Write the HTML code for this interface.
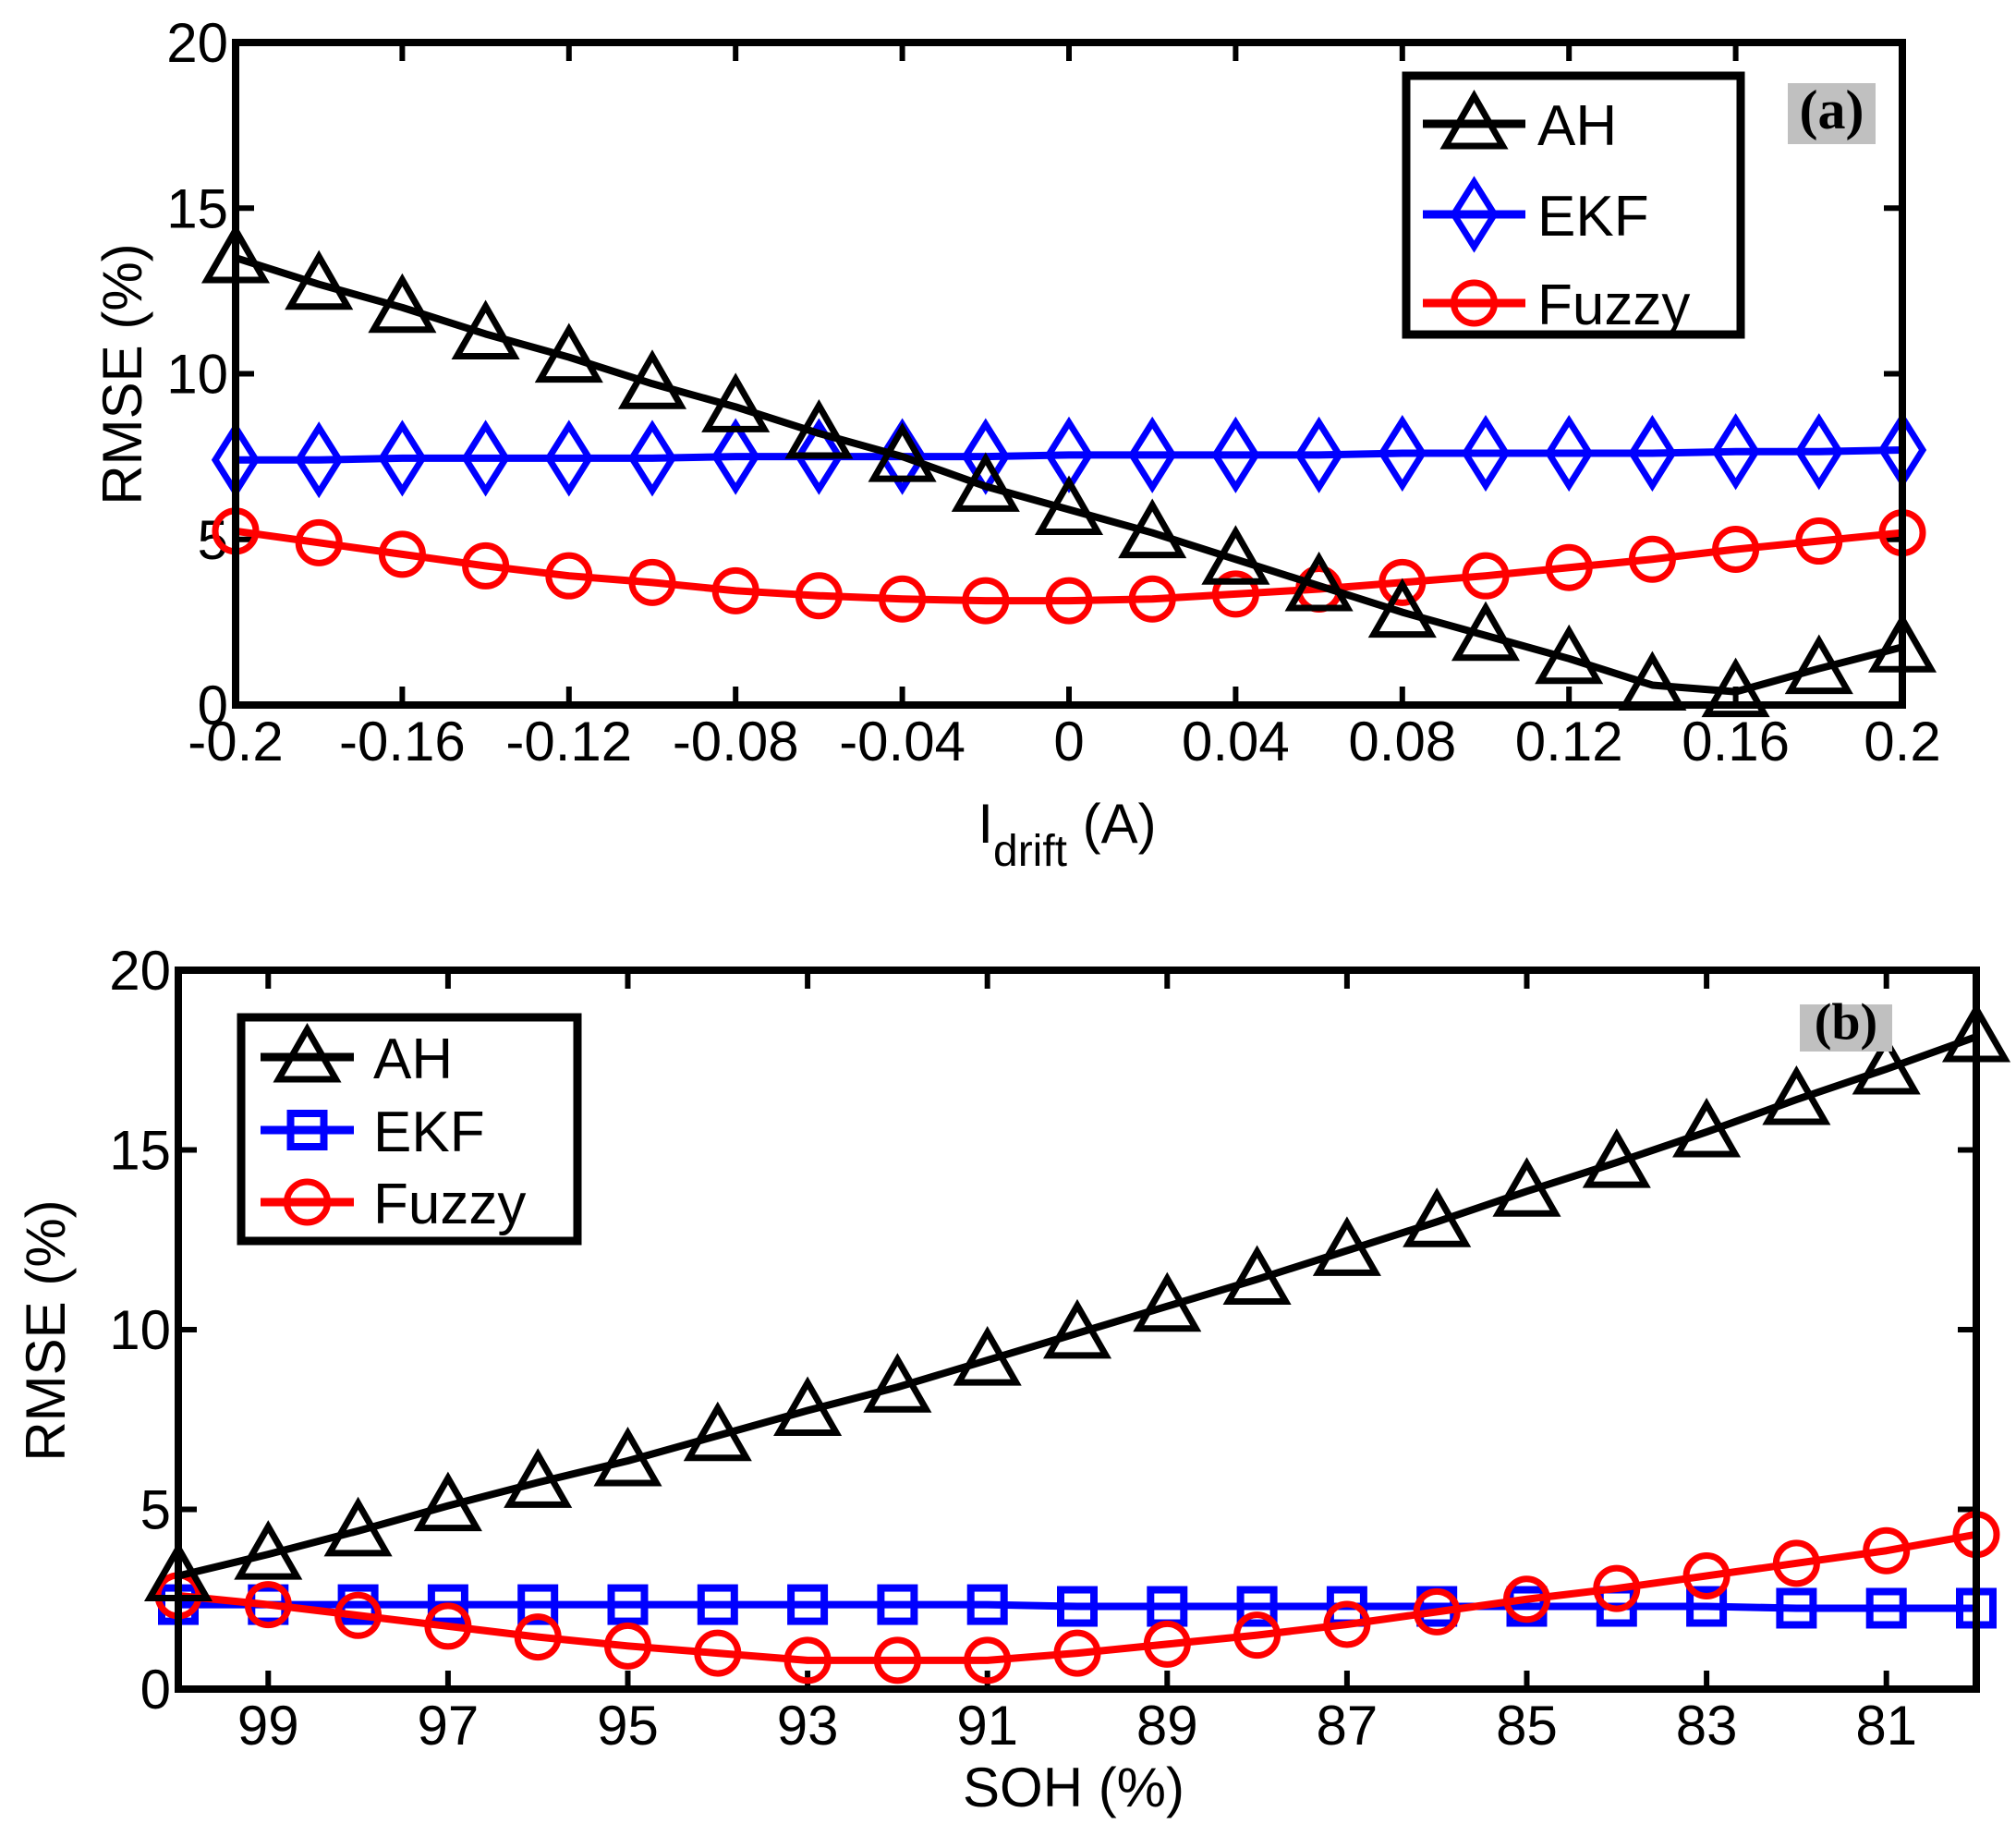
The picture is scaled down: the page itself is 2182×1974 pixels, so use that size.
<!DOCTYPE html>
<html><head><meta charset="utf-8"><style>
html,body{margin:0;padding:0;background:#fff;}
svg{display:block;font-family:"Liberation Sans",Arial,sans-serif;}
</style></head><body>
<svg id="chart" width="2182" height="1974" viewBox="0 0 2182 1974" xmlns="http://www.w3.org/2000/svg"></svg>
<script>
// Panel (a) data
const xA = [-0.2,-0.18,-0.16,-0.14,-0.12,-0.1,-0.08,-0.06,-0.04,-0.02,0,0.02,0.04,0.06,0.08,0.1,0.12,0.14,0.16,0.18,0.2];
const ahA = [13.5,12.7,12.0,11.2,10.5,9.7,9.0,8.2,7.5,6.6,5.9,5.2,4.4,3.6,2.8,2.1,1.4,0.6,0.4,1.1,1.75];
const ekfA = [7.4,7.4,7.45,7.45,7.45,7.45,7.5,7.5,7.5,7.5,7.55,7.55,7.55,7.55,7.6,7.6,7.6,7.6,7.65,7.65,7.7];
const fuzA = [5.25,4.9,4.55,4.2,3.9,3.7,3.45,3.3,3.2,3.15,3.15,3.2,3.35,3.5,3.7,3.9,4.15,4.4,4.7,4.95,5.2];
const xTicksA = [-0.2,-0.16,-0.12,-0.08,-0.04,0,0.04,0.08,0.12,0.16,0.2];
const xTickLabelsA = ["-0.2","-0.16","-0.12","-0.08","-0.04","0","0.04","0.08","0.12","0.16","0.2"];
// Panel (b) data
const xB = [100,99,98,97,96,95,94,93,92,91,90,89,88,87,86,85,84,83,82,81,80];
const ahB = [3.15,3.75,4.4,5.1,5.75,6.35,7.05,7.75,8.4,9.15,9.9,10.65,11.4,12.2,13.0,13.85,14.65,15.5,16.4,17.25,18.15];
const ekfB = [2.35,2.35,2.35,2.35,2.35,2.35,2.35,2.35,2.35,2.35,2.3,2.3,2.3,2.3,2.3,2.3,2.3,2.3,2.25,2.25,2.25];
const fuzB = [2.6,2.35,2.05,1.75,1.45,1.2,1.0,0.8,0.8,0.8,1.0,1.25,1.5,1.8,2.15,2.5,2.8,3.15,3.5,3.85,4.3];
const xTicksB = [99,97,95,93,91,89,87,85,83,81];
const xTickLabelsB = ["99","97","95","93","91","89","87","85","83","81"];
const yTicks = [0,5,10,15,20];
const yTickLabels = ["0","5","10","15","20"];

const NS="http://www.w3.org/2000/svg";
const svg=document.getElementById('chart');
function mk(tag,attrs,parent){const e=document.createElementNS(NS,tag);for(const k in attrs)e.setAttribute(k,attrs[k]);(parent||svg).appendChild(e);return e;}

function marker(g,type,x,y,color){
  let e;
  if(type==='tri'){e=mk('polygon',{points:`${x},${y-30} ${x-31},${y+24} ${x+31},${y+24}`,fill:'none',stroke:color,'stroke-width':7,'stroke-linejoin':'miter'},g);}
  else if(type==='dia'){e=mk('polygon',{points:`${x},${y-35} ${x+22},${y} ${x},${y+35} ${x-22},${y}`,fill:'none',stroke:color,'stroke-width':7},g);}
  else if(type==='sq'){e=mk('rect',{x:x-18,y:y-18,width:36,height:36,fill:'none',stroke:color,'stroke-width':8},g);}
  else {e=mk('circle',{cx:x,cy:y,r:22,fill:'none',stroke:color,'stroke-width':7},g);}
  return e;
}

function panel(o){
  const g=mk('g',{});
  
  
  const sx=v=>o.L+(v-o.x0)/(o.x1-o.x0)*(o.R-o.L);
  const sy=v=>o.B-(v/20)*(o.B-o.T);
  const tk=mk('g',{stroke:'#000','stroke-width':6},g);
  
  
  o.xt.forEach((v,i)=>{
    const x=sx(v);
    mk('line',{x1:x,y1:o.B,x2:x,y2:o.B-20},tk);
    mk('line',{x1:x,y1:o.T,x2:x,y2:o.T+20},tk);
    const t=mk('text',{x:x,y:o.B+60,'font-size':60,'text-anchor':'middle',fill:'#000'},g);
    t.textContent=o.xl[i];
    
    
  });
  yTicks.forEach((v,i)=>{
    const y=sy(v);
    mk('line',{x1:o.L,y1:y,x2:o.L+20,y2:y},tk);
    mk('line',{x1:o.R,y1:y,x2:o.R-20,y2:y},tk);
    const t=mk('text',{x:o.L-8,y:y+21,'font-size':60,'text-anchor':'end',fill:'#000'},g);
    t.textContent=yTickLabels[i];
    
    
  });
  const series=[[o.ah,'#000','tri','ah-series'],[o.ekf,'#0000ff',o.ekfMarker,'ekf-series'],[o.fuz,'#ff0000','circ','fuzzy-series']];
  const order=[1,2,0];
  order.forEach(si=>{
    const [vals,col,m,nm]=series[si];
    const sg=mk('g',{},g);
    
    
    const pts=o.xs.map((x,i)=>sx(x)+','+sy(vals[i])).join(' ');
    const pl=mk('polyline',{points:pts,fill:'none',stroke:col,'stroke-width':8,'stroke-linejoin':'round'},sg);
    
    
    o.xs.forEach((x,i)=>{
      const e=marker(sg,m,sx(x),sy(vals[i]),col);
      
      
    });
  });
  const bx=mk('rect',{x:o.L,y:o.T,width:o.R-o.L,height:o.B-o.T,fill:'none',stroke:'#000','stroke-width':8},g);
  
  
  const lg=mk('g',{},g);
  
  
  const lgb=mk('rect',{x:o.lg.x,y:o.lg.y,width:o.lg.w,height:o.lg.h,fill:'#fff',stroke:'#000','stroke-width':9},lg);
  
  
  const names=['AH','EKF','Fuzzy'];
  series.forEach((s,i)=>{
    const y=o.lg.rows[i];
    const en=mk('g',{},lg);
    
    
    mk('line',{x1:o.lg.lx1,y1:y,x2:o.lg.lx2,y2:y,stroke:s[1],'stroke-width':9},en);
    marker(en,s[2],(o.lg.lx1+o.lg.lx2)/2,y,s[1]);
    const t=mk('text',{x:o.lg.tx,y:y+23,'font-size':62,fill:'#000'},en);
    t.textContent=names[i];
  });
  const tg=mk('g',{},g);
  
  
  mk('rect',{x:o.tag.x,y:o.tag.y,width:o.tag.w,height:o.tag.h,fill:'#c0c0c0'},tg);
  const tt=mk('text',{x:o.tag.x+o.tag.w/2,y:o.tag.y+o.tag.h*0.74,'font-size':o.tag.fs,'font-weight':'bold','text-anchor':'middle','font-family':'"Liberation Serif",serif',fill:'#000'},tg);
  tt.textContent=o.tag.t;
  return g;
}

panel({name:'panel-a',L:255,R:2059,T:46,B:763,x0:-0.2,x1:0.2,xs:xA,ah:ahA,ekf:ekfA,fuz:fuzA,ekfMarker:'dia',xt:xTicksA,xl:xTickLabelsA,
  lg:{x:1522,y:82,w:362,h:280,rows:[134,232,328],lx1:1540,lx2:1651,tx:1664},
  tag:{x:1935,y:90,w:95,h:66,t:'(a)',fs:60}});
panel({name:'panel-b',L:193,R:2139,T:1050,B:1828,x0:100,x1:80,xs:xB,ah:ahB,ekf:ekfB,fuz:fuzB,ekfMarker:'sq',xt:xTicksB,xl:xTickLabelsB,
  lg:{x:261,y:1101,w:364,h:242,rows:[1144,1223,1301],lx1:282,lx2:383,tx:404},
  tag:{x:1948,y:1087,w:100,h:51,t:'(b)',fs:56}});

let t;
t=mk('text',{x:0,y:0,'font-size':60,'text-anchor':'middle',fill:'#000',transform:'translate(153,405) rotate(-90)'});
t.textContent='RMSE (%)';


t=mk('text',{x:0,y:0,'font-size':60,'text-anchor':'middle',fill:'#000',transform:'translate(70,1440) rotate(-90)'});
t.textContent='RMSE (%)';


t=mk('text',{x:1155,y:912,'font-size':60,'text-anchor':'middle',fill:'#000'});
t.innerHTML='I<tspan font-size="48" dy="25">drift</tspan><tspan dy="-25"> (A)</tspan>';


t=mk('text',{x:1162,y:1955,'font-size':60,'text-anchor':'middle',fill:'#000'});
t.textContent='SOH (%)';


</script>
</body></html>
